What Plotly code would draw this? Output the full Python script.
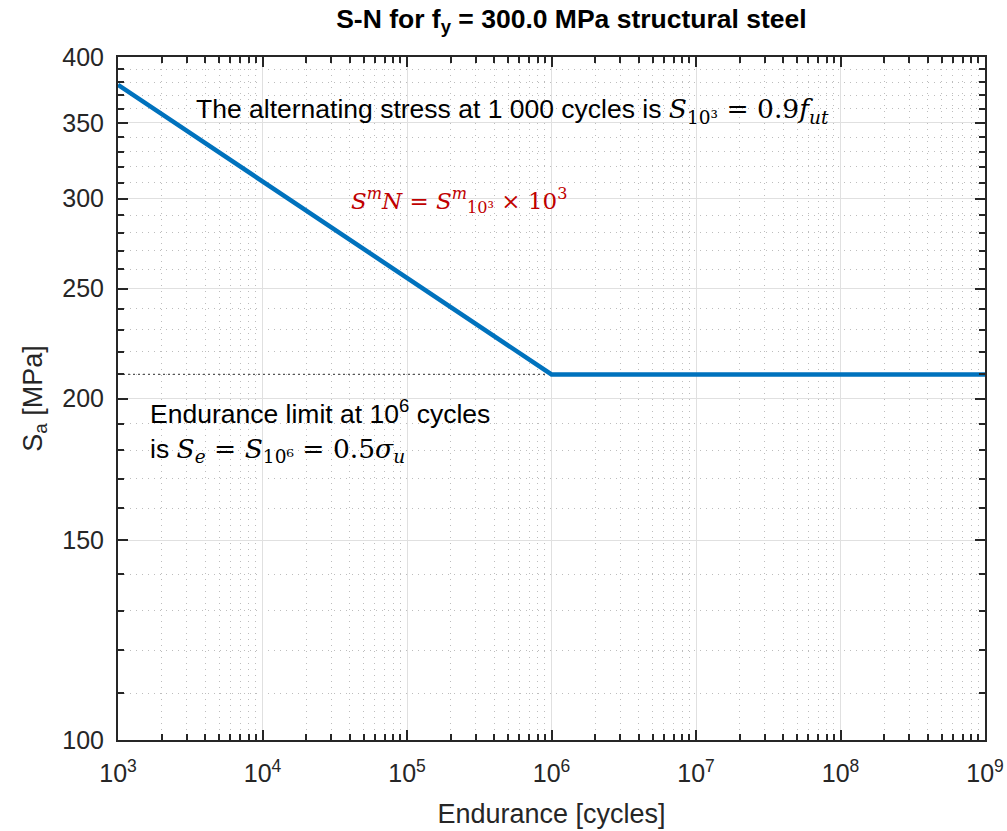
import plotly.graph_objects as go

# ---- data ----
cycles = [1e3, 1e6, 1e9]
stress = [378.0, 210.0, 210.0]
endurance_x = [1e3, 1e6]
endurance_y = [210.0, 210.0]

x_tickvals = [1e3, 1e4, 1e5, 1e6, 1e7, 1e8, 1e9]
x_ticktext = ["10<sup>3</sup>", "10<sup>4</sup>", "10<sup>5</sup>", "10<sup>6</sup>",
              "10<sup>7</sup>", "10<sup>8</sup>", "10<sup>9</sup>"]
y_tickvals = [100, 150, 200, 250, 300, 350, 400]
y_ticktext = ["100", "150", "200", "250", "300", "350", "400"]

x_minor = [m * 10 ** d for d in range(3, 9) for m in range(2, 10)]
y_minor = [v for v in range(110, 400, 10) if v not in y_tickvals]

SANS = "Liberation Sans, Arial, sans-serif"
MATH = "DejaVu Serif, serif"
AX = "#262626"

fig = go.Figure()
fig.add_trace(go.Scatter(x=endurance_x, y=endurance_y, mode="lines",
                         line=dict(color="#555555", width=1.2, dash="2px,3px"),
                         showlegend=False, hoverinfo="skip"))
fig.add_trace(go.Scatter(x=cycles, y=stress, mode="lines",
                         line=dict(color="#0072BD", width=4.5),
                         showlegend=False))

def m(s):
    return f'<span style="font-family:{MATH}">{s}</span>'

ann_font = dict(family=SANS, size=26.5, color="black")
fig.add_annotation(xref="paper", yref="paper", x=0.088, y=0.922, xanchor="left", yanchor="middle",
                   showarrow=False, font=ann_font,
                   text="The alternating stress at 1 000 cycles is "
                        + m("<i>S</i><sub>10³</sub> = 0.9<i>f</i><sub><i>ut</i></sub>"))
fig.add_annotation(xref="paper", yref="paper", x=0.266, y=0.79, xanchor="left", yanchor="middle",
                   showarrow=False, font=dict(family=MATH, size=23, color="#C00000"),
                   text="<i>S</i><sup><i>m</i></sup><i>N</i> = <i>S</i><sup><i>m</i></sup><sub>10³</sub> × 10<sup>3</sup>")
fig.add_annotation(xref="paper", yref="paper", x=0.035, y=0.452, xanchor="left", yanchor="middle",
                   showarrow=False, font=ann_font, align="left",
                   text="Endurance limit at 10<sup>6</sup> cycles<br>is "
                        + m("<i>S</i><sub><i>e</i></sub> = <i>S</i><sub>10⁶</sub> = 0.5<i>σ</i><sub><i>u</i></sub>"))

axis_common = dict(
    showline=True, linecolor=AX, linewidth=2, mirror="allticks",
    ticks="inside", ticklen=10, tickwidth=1.5, tickcolor=AX,
    showgrid=True, gridcolor="#E0E0E0", gridwidth=1,
    tickfont=dict(family=SANS, size=25, color=AX),
    zeroline=False,
)
minor_common = dict(tickmode="array", ticks="inside", ticklen=6, tickwidth=1.5, tickcolor=AX,
                    showgrid=True, gridcolor="#BDBDBD", griddash="1px,5px", gridwidth=1)

fig.update_xaxes(type="log", range=[3, 9], tickmode="array", tickvals=x_tickvals, ticktext=x_ticktext,
                 ticklabelstandoff=10,
                 title=dict(text="Endurance [cycles]", font=dict(family=SANS, size=27, color=AX), standoff=18),
                 minor=dict(tickvals=x_minor, **minor_common),
                 **axis_common)
fig.update_yaxes(type="log", range=[2, 2.60206], tickmode="array", tickvals=y_tickvals, ticktext=y_ticktext,
                 ticklabelstandoff=7,
                 title=dict(text="S<sub>a</sub> [MPa]", font=dict(family=SANS, size=27, color=AX), standoff=12),
                 minor=dict(tickvals=y_minor, **minor_common),
                 **axis_common)

fig.update_layout(
    width=1007, height=831,
    margin=dict(l=118, r=22, t=57, b=91, autoexpand=False),
    paper_bgcolor="white", plot_bgcolor="white",
    title=dict(text="<b>S-N for f<sub>y</sub> = 300.0 MPa structural steel</b>",
               font=dict(family=SANS, size=26.5, color="black"),
               x=0.523, xref="paper", xanchor="center", y=0.978, yanchor="middle"),
)

fig.write_html("out.html")
